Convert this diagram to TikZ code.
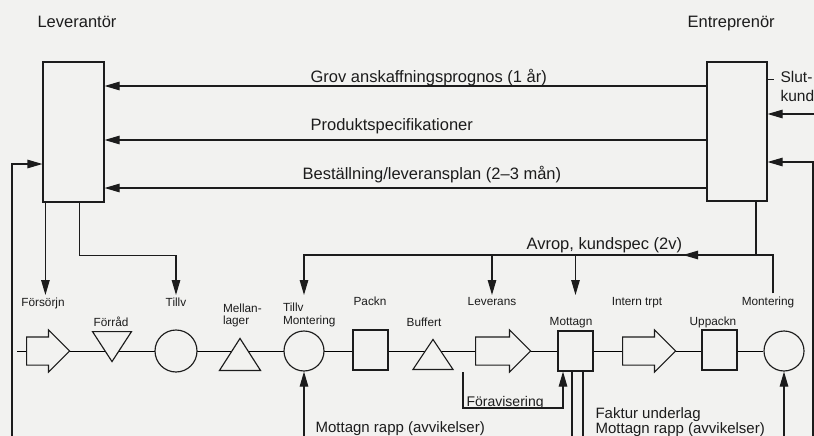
\documentclass[tikz,border=0pt]{standalone}
\usepackage{fontspec}
\setmainfont{Liberation Sans}
\usetikzlibrary{arrows.meta,shapes.geometric,shapes.arrows,backgrounds}
\definecolor{bgc}{RGB}{242,242,240}
\definecolor{ink}{RGB}{28,28,28}
\begin{document}
\begin{tikzpicture}[x=1pt,y=-1pt,
  color=ink, line width=1.15pt,
  arr/.style={-{Triangle[length=15pt,width=8.5pt]}},
  big/.style={font=\fontsize{16.5}{19}\selectfont, inner sep=0pt, anchor=base west},
  sidelbl/.style={font=\fontsize{15.5}{18}\selectfont, inner sep=0pt, anchor=base west},
  mid/.style={font=\fontsize{15}{17}\selectfont, inner sep=0pt, anchor=base west},
  favlbl/.style={font=\fontsize{14}{16}\selectfont, inner sep=0pt, anchor=base west},
  small/.style={font=\fontsize{11.8}{13}\selectfont, inner sep=0pt, outer sep=3pt, anchor=base},
  smallw/.style={small, anchor=base west},
  box/.style={draw, fill=bgc, inner sep=0pt},
  sq/.style={draw, fill=bgc, inner sep=0pt, minimum width=35pt, minimum height=40pt},
  circ/.style={circle, draw, fill=bgc, inner sep=0pt},
  tri/.style={isosceles triangle, isosceles triangle stretches, draw, fill=bgc, inner sep=0pt},
  bigarrow/.style={single arrow, draw, fill=bgc, inner xsep=0pt, inner ysep=13.5pt, minimum width=41pt, single arrow head extend=7pt}
]
\useasboundingbox (0,0) rectangle (814,436);

% main boxes and titles
\node[box, minimum width=61pt, minimum height=140pt] (lev) at (73.5,132) {};
\node[box, minimum width=60pt, minimum height=139pt] (ent) at (737,131.5) {};
\node[big] (levt) at (37,28) {Leverantör};
\node[big] (entt) at (687,28) {Entreprenör};
\node[sidelbl] (slut) at (780,82) {Slut-};
\node[sidelbl] (kund) at (780,102) {kund};
\draw (ent.north east |- slut.mid) -- ++(6,0);

% flow labels
\node[big] (l1) at (310,82) {Grov anskaffningsprognos (1 år)};
\node[big] (l2) at (310,130) {Produktspecifikationer};
\node[big] (l3) at (302,179) {Beställning/leveransplan (2–3 mån)};

\coordinate (r1) at (0,86);
\coordinate (r2) at (0,140);
\coordinate (r3) at (0,188);
\draw[arr] (ent.west |- r1) -- (lev.east |- r1);
\draw[arr] (ent.west |- r2) -- (lev.east |- r2);
\draw[arr] (ent.west |- r3) -- (lev.east |- r3);

% inputs to Entreprenör
\coordinate (sk) at (816,114);
\draw[arr] (sk) -- (ent.east |- sk);
\coordinate (rb) at (813,437);
\coordinate (rr) at (813,162);
\draw[arr] (rb) -- (rr) -- (ent.east |- rr);

% feedback to Leverantör
\coordinate (lb) at (12,437);
\coordinate (lr) at (12,164);
\draw[arr] (lb) -- (lr) -- (lev.west |- lr);

% process shapes
\node[bigarrow, minimum height=43pt, anchor=tail] (fors) at (26,351) {};
\node[tri, minimum width=39pt, minimum height=30pt, rotate=-90, anchor=lower side] (forr) at (112,331) {};
\node[circ, minimum size=42pt] (till) at (176,351) {};
\node[tri, minimum width=41pt, minimum height=32pt, rotate=90, anchor=lower side] (mell) at (240,371) {};
\node[circ, minimum size=40pt] (tm) at (304,351) {};
\node[sq] (pack) at (370.5,350) {};
\node[tri, minimum width=40pt, minimum height=30pt, rotate=90, anchor=lower side] (buff) at (433,370) {};
\node[bigarrow, minimum height=55pt, anchor=tail] (lever) at (475,351) {};
\node[sq] (mott) at (575.5,351) {};
\node[bigarrow, minimum height=53pt, anchor=tail] (intr) at (622,351) {};
\node[sq] (upp) at (719.5,350) {};
\node[circ, minimum size=40pt] (mont) at (784,351) {};

% process labels
\node[small] (lfors) at (43,306) {Försörjn};
\node[small] (lforr) at (111,326) {Förråd};
\node[small] (ltill) at (176,306) {Tillv};
\node[smallw] (lmell1) at (220,312) {Mellan-};
\node[smallw] (lmell2) at (220,324) {lager};
\node[smallw] (ltm1) at (280,311) {Tillv};
\node[smallw] (ltm2) at (280,324) {Montering};
\node[small] (lpack) at (370,305) {Packn};
\node[small] (lbuff) at (424,326) {Buffert};
\node[small] (llev) at (492,305) {Leverans};
\node[small] (lmott) at (571,325) {Mottagn};
\node[small] (lintr) at (637,305) {Intern trpt};
\node[small] (lupp) at (713,325) {Uppackn};
\node[small] (lmont) at (768,305) {Montering};

% Leverantör outputs
\coordinate (tipy) at (0,295);
\draw[arr] ([xshift=3pt]lev.south west) -- ([xshift=3pt]lev.south west |- tipy);
\draw[arr] ([xshift=37pt]lev.south west) -- ++(0,53) -| (ltill.north |- tipy);

% Avrop line
\coordinate (avy) at (0,255);
\coordinate (avtip) at (683,255);
\node[big] (lav) at (526,249) {Avrop, kundspec (2v)};
\draw ([xshift=19pt]ent.south) -- ([xshift=19pt]ent.south |- avy);
\draw[arr] ([xshift=5pt]lmont.north) -- ([xshift=5pt]lmont.north |- avy) -- (tm.north |- avy) -- (tm.north |- tipy);
\draw[arr] ([xshift=5pt]lmont.north |- avy) -- (avtip);
\draw[arr] (llev.north |- avy) -- (llev.north |- tipy);
\draw[arr] (mott.north |- avy) -- (mott.north |- tipy);

% bottom connectors
\coordinate (boty) at (0,437);
\draw[arr] (tm.south |- boty) -- (tm.south);
\draw[arr] (mont.south |- boty) -- (mont.south);
\draw ([xshift=-3.5pt]mott.south) -- ([xshift=-3.5pt]mott.south |- boty);
\draw ([xshift=7.5pt]mott.south) -- ([xshift=7.5pt]mott.south |- boty);
\coordinate (fav) at (463,372);
\draw[arr] (fav) -- ++(0,36) -| ([xshift=-12.5pt]mott.south);

\node[favlbl] (lforav) at (466,406) {Föravisering};
\node[mid] (lrapp1) at (315,432) {Mottagn rapp (avvikelser)};
\node[mid] (lfakt) at (595,418) {Faktur underlag};
\node[mid] (lrapp2) at (595,433) {Mottagn rapp (avvikelser)};

% background and process line
\coordinate (pstart) at (17,351);
\begin{scope}[on background layer]
  \fill[bgc] (0,0) rectangle (814,436);
  \draw (pstart) -- (mont.west);
\end{scope}
\end{tikzpicture}
\end{document}
